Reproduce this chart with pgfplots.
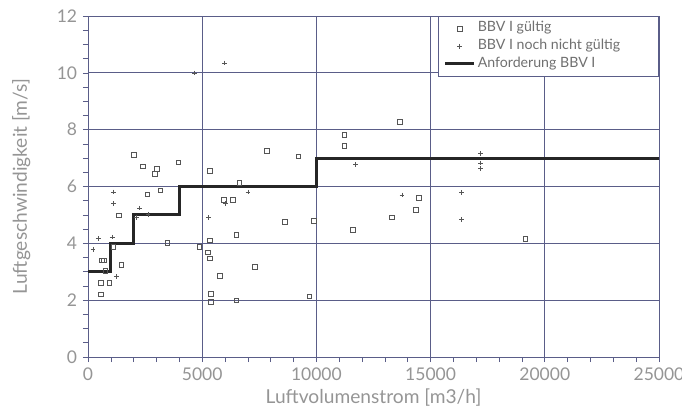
\documentclass[border=0pt]{standalone}
\usepackage{fontspec}
\setmainfont{Lato}
\usepackage{pgfplots}
\pgfplotsset{compat=1.18}
\definecolor{gridc}{HTML}{5A5D88}
\definecolor{txt}{HTML}{959595}
\definecolor{legtxt}{HTML}{707070}
\definecolor{mk}{HTML}{555555}
\definecolor{stepc}{HTML}{262626}

\begin{document}
\begin{tikzpicture}
\begin{axis}[
  name=ax,
  scale only axis,
  width=342.6pt, height=204.6pt,
  xmin=0, xmax=25000, ymin=0, ymax=12,
  xtick={0,5000,...,25000}, ytick={0,2,...,12},
  minor x tick num=4, minor y tick num=3,
  scaled x ticks=false,
  /pgf/number format/set thousands separator={},
  /pgf/number format/assume math mode=true,
  tick align=outside, tick pos=left,
  major tick length=3pt, minor tick length=3pt,
  grid=major,
  major grid style={gridc, line width=0.5pt},
  axis line style={gridc, line width=0.5pt},
  tick style={gridc, line width=0.4pt},
  ticklabel style={font=\fontsize{10.5}{12}\selectfont, text=txt},
  xlabel={Luftvolumenstrom [m3/h]},
  ylabel={Luftgeschwindigkeit [m/s]},
  label style={font=\fontsize{11.5}{14}\selectfont, text=txt},
  xlabel style={at={(axis description cs:0.5,-0.118)}, anchor=center},
  ylabel style={at={(axis description cs:-0.117,0.5)}, anchor=center},
  legend style={at={(1,1)}, anchor=north east, draw=gridc, fill=white,
    line width=0.5pt, font=\fontsize{8.5}{10}\selectfont, text=legtxt,
    row sep=0pt, inner ysep=2pt,
    nodes={inner sep=1.5pt, text height=5.8pt, text depth=1.8pt}},
  legend cell align=left,
]

\addplot[only marks, mark=square, mark size=1.4pt, draw=mk, line width=0.4pt]
coordinates {
(2000,7.12)(2390,6.71)(3000,6.63)(2930,6.44)(3950,6.85)(2600,5.73)
(3160,5.87)(1340,4.99)(3470,4.02)(600,3.40)(680,3.40)(760,3.04)
(1110,3.87)(1460,3.25)(550,2.60)(930,2.60)(550,2.20)(5320,6.54)
(4870,3.87)(5320,4.10)(5260,3.68)(5320,3.47)(5760,2.85)(5380,2.22)
(5380,1.93)(6500,2.00)(6490,4.30)(6330,5.54)(5960,5.54)(6620,6.14)
(7300,3.18)(7840,7.25)(9210,7.06)(8620,4.76)(9900,4.79)(9690,2.13)
(11230,7.81)(11230,7.44)(11590,4.47)(13650,8.28)(14490,5.60)(14360,5.18)
(13290,4.91)(19150,4.16)
};
\addlegendentry{\makebox[104pt][l]{BBV I gültig}}

\addplot[only marks, mark=+, mark size=1.4pt, draw=mk, line width=0.4pt]
coordinates {
(220,3.79)(450,4.16)(1110,5.81)(1120,5.40)(1060,4.22)(1240,2.83)
(2260,5.24)(2110,4.91)(2620,5.02)(5290,4.90)(6010,5.40)(7000,5.81)
(4670,10.0)(5970,10.35)(11710,6.78)(13750,5.70)(16360,5.79)(16360,4.83)
(17180,7.16)(17180,6.83)(17180,6.64)
};
\addlegendentry{BBV I noch nicht gültig}

\addplot[const plot, stepc, line width=1.8pt, mark=none]
coordinates {
(0,3)(1000,4)(2000,5)(4000,6)(10000,7)(25000,7)
};
\addlegendentry{Anforderung BBV I}

\end{axis}
\pgfresetboundingbox
\path[use as bounding box] ([xshift=-52.8pt,yshift=-30pt]ax.south west)
  rectangle ([xshift=13.8pt,yshift=9.6pt]ax.north east);
\end{tikzpicture}
\end{document}
